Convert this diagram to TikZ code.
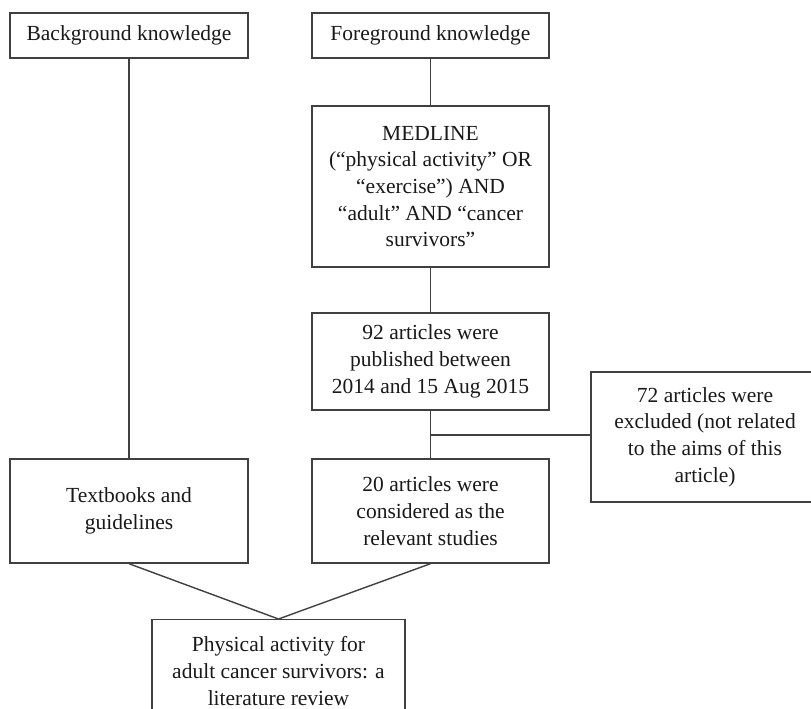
\documentclass[tikz,border=0pt]{standalone}
\usepackage{fontspec}
\setmainfont{Liberation Serif}
\begin{document}
\begin{tikzpicture}[x=1pt,y=-1pt,
  box/.style={draw=black!75, line width=1.4pt, rectangle, inner sep=0pt, align=center,
    text=black!90, font=\fontsize{21.5}{26.7}\selectfont},
  link/.style={draw=black!75, line width=1.4pt}]
\useasboundingbox (0,0) rectangle (811,709);
\clip (0,0) rectangle (811,709);
\fill[white] (0,0) rectangle (811,709);
\node[box, minimum width=238, minimum height=45] (bg) at (129,35.5) {Background knowledge};
\node[box, minimum width=237, minimum height=45] (fg) at (430.5,35.5) {Foreground knowledge};
\node[box, minimum width=237, minimum height=161] (med) at (430.5,186.5)
  {MEDLINE\\(“physical activity” OR\\“exercise”) AND\\“adult” AND “cancer\\survivors”};
\node[box, minimum width=237, minimum height=97] (n92) at (430.5,361.5)
  {92 articles were\\published between\\2014 and 15 Aug 2015};
\node[box, minimum width=237, minimum height=104] (n20) at (430.5,511)
  {20 articles were\\considered as the\\relevant studies};
\node[box, minimum width=238, minimum height=104] (tb) at (129,511)
  {Textbooks and\\guidelines};
\node[box, minimum width=228, minimum height=130] (ex) at (705,437)
  {72 articles were\\excluded (not related\\to the aims of this\\article)};
\node[box, anchor=north, minimum width=253, inner ysep=17pt] (rev) at (278.5,619)
  {Physical activity for\\adult cancer survivors: a\\literature review};
\coordinate (br) at (430.5,435);
\draw[link] (bg.south) -- (tb.north);
\draw[link] (fg.south) -- (med.north);
\draw[link] (med.south) -- (n92.north);
\draw[link] (n92.south) -- (n20.north);
\draw[link] (br) -- (ex.west |- br);
\draw[link] (tb.south) -- (rev.north);
\draw[link] (n20.south) -- (rev.north);
\end{tikzpicture}
\end{document}
